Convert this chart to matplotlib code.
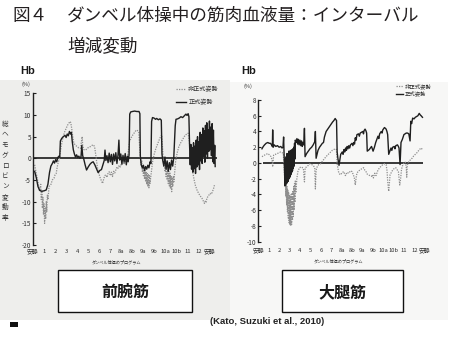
import matplotlib
matplotlib.use('Agg')
import matplotlib.pyplot as plt
from matplotlib.patches import Rectangle

plt.rcParams['font.family'] = ['Noto Sans CJK JP', 'DejaVu Sans']
plt.rcParams['axes.unicode_minus'] = False

W, H = 456, 339

# exercise program stages along the x axis
stages = ['安静', '1', '2', '3', '4', '5', '6', '7', '8a', '8b', '9a', '9b',
          '10a', '10b', '11', '12', '安静']

# forearm: total haemoglobin change (%), 正式姿勢
arm_formal_x = [0.15, 0.3, 0.45, 0.6, 0.8, 1.0, 1.2, 1.35, 1.5, 1.62, 1.75, 1.85, 1.95, 2.05,
                2.15, 2.25, 2.35, 2.42, 2.48, 2.6, 2.75, 2.9, 3.0, 3.1, 3.2, 3.3, 3.4, 3.48,
                3.55, 3.65, 3.75, 3.85, 3.95, 4.05, 4.15, 4.25, 4.35, 4.42, 4.5, 4.6, 4.72,
                4.85, 5.0, 5.15, 5.3, 5.45, 5.6, 5.75, 5.9, 6.05, 6.2, 6.35, 6.45, 6.52, 6.6,
                6.7, 6.8, 6.9, 7.0, 7.1, 7.2, 7.3, 7.4, 7.5, 7.6, 7.7, 7.78, 7.85, 7.95, 8.05,
                8.15, 8.25, 8.35, 8.45, 8.55, 8.62, 8.7,
                8.76, 8.85, 9.0, 9.2, 9.4, 9.6, 9.68, 9.72, 9.8, 9.9, 10.0, 10.1, 10.2, 10.3,
                10.4, 10.5, 10.6, 10.68,
                10.74, 10.82, 10.95, 11.1, 11.2, 11.35, 11.5, 11.62, 11.68, 11.75, 11.85,
                11.95, 12.05, 12.15, 12.25, 12.35, 12.45, 12.55, 12.65, 12.75,
                12.88, 12.95, 13.1, 13.25, 13.4, 13.55, 13.7, 13.85, 13.95, 14.05, 14.12, 14.18,
                14.24, 14.3, 14.36, 14.42, 14.48, 14.54, 14.6, 14.66, 14.72, 14.78, 14.84,
                14.9, 14.96, 15.02, 15.08, 15.14, 15.2, 15.26, 15.32, 15.38, 15.44, 15.5,
                15.56, 15.62, 15.68, 15.74, 15.8, 15.86, 15.92, 15.98, 16.04, 16.1, 16.16,
                16.22, 16.28, 16.34, 16.4, 16.46, 16.5]
arm_formal_y = [-3.0, -4.5, -6.5, -7.4, -7.6, -7.5, -7.3, -6.0, -3.2, -1.8, -1.2, -0.6, -1.1, -0.3,
                -0.8, 0.2, 0.5, 0.3, 4.0, 4.6, 5.0, 5.3, 4.8, 5.6, 5.2, 6.2, 5.6, 6.0,
                4.0, 2.0, 1.0, 0.3, 0.8, 0.2, 0.5, 0.0, 0.4, 3.0, 0.6, -0.2, -1.5,
                -2.7, -2.0, -1.4, -1.0, -0.8, -1.5, -2.4, -3.3, -2.8, -2.6, -1.3, -0.5, 1.9, -0.5,
                0.6, -1.0, 1.2, -0.8, 0.9, -1.4, 1.0, -0.6, 1.3, -1.2, 0.8, 4.2, -0.4, 1.0, -1.3,
                0.7, -0.9, 1.1, -1.5, 0.5, -0.8, 0.8,
                10.2, 10.7, 10.8, 10.9, 10.8, 10.8, 10.3, 0.5, -1.5, -2.2, -1.6, -2.8, -1.9, -2.5,
                -1.6, -2.2, -0.8, -1.2,
                8.5, 9.4, 9.3, 9.0, 9.2, 8.9, 9.1, 8.8, 1.0, -0.5, -1.8,
                0.3, -2.5, -0.6, -3.0, -1.0, -2.6, -0.4, -1.8, 0.2,
                7.5, 9.0, 9.1, 9.3, 9.6, 9.4, 9.8, 10.2, 9.9, 10.3, 9.6, 3.0,
                -1.5, 3.2, -2.5, 2.5, -3.2, 3.6, -2.4, 2.8, -3.5, 4.2, -2.0,
                5.0, -1.5, 3.8, -2.6, 6.0, -0.6, 5.5, -1.2, 7.0, 0.4, 6.4,
                -0.9, 7.6, 1.0, 8.2, 0.0, 6.6, 1.6, 8.6, 2.0, 7.2, 0.6,
                8.0, -0.8, 6.5, -1.2, 3.0, -1.9]

# forearm: 非正式姿勢
arm_informal_x = [0.15, 0.3, 0.45, 0.6, 0.7, 0.75, 0.8, 0.85, 0.9, 0.95, 1.0, 1.05, 1.1, 1.15,
                  1.2, 1.25, 1.3, 1.36, 1.45, 1.6, 1.75, 1.9, 2.0, 2.1, 2.2, 2.3, 2.4, 2.5,
                  2.6, 2.7, 2.85, 3.0, 3.12, 3.25, 3.35, 3.42, 3.5, 3.6, 3.7, 3.85, 4.0, 4.15,
                  4.3, 4.4, 4.45, 4.5, 4.6, 4.75, 4.9, 5.05, 5.2, 5.35, 5.5, 5.6, 5.7, 5.8,
                  5.9, 6.0, 6.1, 6.2, 6.3, 6.4, 6.5, 6.6, 6.7, 6.8, 6.9, 7.0, 7.1, 7.2, 7.3,
                  7.4, 7.5, 7.6, 7.7, 7.8, 7.9, 8.0, 8.1, 8.2, 8.3, 8.45, 8.6, 8.74, 8.9,
                  9.04, 9.2, 9.34, 9.46, 9.58, 9.7, 9.8, 9.85, 9.9, 9.95, 10.0, 10.05, 10.1,
                  10.15, 10.2, 10.25, 10.3, 10.35, 10.4, 10.45, 10.5, 10.55, 10.6, 10.65,
                  10.75, 10.83, 10.98, 11.13, 11.28, 11.42, 11.55, 11.66, 11.78, 11.85, 11.9,
                  11.95, 12.0, 12.05, 12.1, 12.15, 12.2, 12.25, 12.3, 12.35, 12.4, 12.45,
                  12.5, 12.56, 12.6, 12.66, 12.72, 12.76, 12.85, 12.91, 13.05, 13.21, 13.36,
                  13.51, 13.65, 13.8, 13.95, 14.05, 14.15, 14.25, 14.35, 14.46, 14.58, 14.7,
                  14.85, 15.0, 15.15, 15.3, 15.42, 15.53, 15.6, 15.68, 15.75, 15.9, 16.04,
                  16.15, 16.25, 16.35, 16.43]
arm_informal_y = [-1.5, -3.5, -5.4, -7.5, -6.0, -9.5, -7.5, -11.5, -9.0, -13.0, -10.5, -15.0,
                  -11.5, -14.0, -10.0, -12.3, -8.5, -9.5, -6.5, -6.2, -5.0, -4.6, -3.8, -3.5,
                  -1.9, -0.8, 0.0, 1.9, 3.4, 4.6, 6.0, 6.9, 7.6, 8.1, 8.5, 8.2, 7.0, 5.0, 3.5,
                  3.0, 2.7, 2.4, 2.3, 4.0, 5.0, 3.0, 2.0, 1.9, 2.2, 2.6, 2.7, 3.0, 3.1, 2.3,
                  0.5, -1.5, -3.0, -3.8, -4.6, -5.2, -5.8, -4.8, -4.0, -3.8, -4.4, -3.4, -3.1,
                  -4.0, -3.2, -4.2, -3.0, -3.4, -2.7, -2.0, -2.3, -1.6, -2.0, -1.2, -1.5,
                  -0.9, -1.2, -0.4, 1.0, 3.8, 4.8, 5.4, 6.0, 6.5, 6.4, 6.1, 0.8, -1.5, -0.5,
                  -3.0, -1.5, -4.0, -2.0, -4.8, -2.5, -5.4, -3.0, -6.0, -3.5, -6.5, -3.8,
                  -6.8, -4.0, -5.8, -4.6, -2.5, -0.8, 1.0, 2.3, 3.3, 4.2, 5.0, 5.4, 0.4,
                  -1.8, -0.8, -3.1, -1.5, -4.2, -2.2, -5.0, -2.6, -5.8, -3.0, -6.4, -3.4,
                  -7.0, -4.0, -7.7, -4.4, -6.5, -4.0, -5.4, -2.5, -0.8, 1.2, 2.7, 3.5, 4.2,
                  4.8, 5.4, 5.6, 5.8, 4.0, 1.5, -1.0, -3.1, -4.8, -6.2, -7.3, -8.1, -8.7,
                  -9.2, -9.8, -10.4, -9.9, -10.2, -9.2, -8.6, -8.1, -8.3, -7.7, -7.0, -6.2]

# thigh: total haemoglobin change (%), 正式姿勢
leg_formal_x = [0.35, 0.48, 0.6, 0.75, 0.91, 1.05, 1.16, 1.28, 1.35, 1.38, 1.42, 1.53, 1.68,
                1.84, 2.0, 2.15, 2.28, 2.37, 2.43, 2.5,
                2.56, 2.6, 2.64, 2.68, 2.72, 2.76, 2.8, 2.84, 2.88, 2.92, 2.96, 3.0, 3.04,
                3.08, 3.12, 3.16, 3.2, 3.24, 3.28, 3.32, 3.36, 3.4, 3.44, 3.48, 3.52,
                3.55, 3.62, 3.71, 3.78, 3.85, 3.92, 4.0, 4.08, 4.15, 4.22, 4.28, 4.36, 4.43,
                4.49, 4.64, 4.8, 4.96, 5.12, 5.27, 5.42, 5.48, 5.55, 5.64, 5.73, 5.88, 6.04,
                6.15, 6.26, 6.35, 6.51, 6.66, 6.82, 6.98, 7.13, 7.26, 7.38, 7.45, 7.51, 7.57,
                7.65, 7.75, 7.82, 7.91, 8.06, 8.14, 8.22, 8.3, 8.38, 8.46, 8.53, 8.61, 8.69,
                8.77, 8.85, 9.0, 9.08, 9.16, 9.24, 9.31, 9.39, 9.47, 9.62, 9.7, 9.78, 9.9,
                10.03, 10.1, 10.15, 10.25, 10.33, 10.4, 10.46, 10.56, 10.65, 10.76, 10.87,
                10.95, 11.02, 11.15, 11.27, 11.38, 11.49, 11.57, 11.65, 11.8, 11.88, 11.95,
                12.11, 12.2, 12.27, 12.35, 12.42, 12.52, 12.63, 12.74, 12.82, 12.9, 13.05,
                13.12, 13.2, 13.36, 13.45, 13.51, 13.56, 13.61, 13.66, 13.7, 13.83, 13.98,
                14.1, 14.2, 14.33, 14.45, 14.57, 14.64, 14.72, 14.82, 14.95, 15.07, 15.2,
                15.32, 15.45, 15.55, 15.63, 15.76]
leg_formal_y = [1.8, 2.1, 2.3, 2.5, 2.6, 2.5, 2.5, 2.3, 2.1, 4.2, 2.0, 2.3, 2.1,
                2.2, 2.0, 2.1, 1.9, 2.0, 3.3, 0.1,
                -2.9, 0.5, -2.7, 0.8, -2.6, 1.2, -2.4, 1.0, -2.3, 1.5, -2.0, 1.3, -1.8,
                1.6, -1.5, 1.4, -1.2, 1.7, -1.0, 1.8, -0.7, 2.0, -0.4, 2.5, 0.5,
                2.9, 2.6, 3.1, 2.4, 3.0, 2.3, 2.9, 2.2, 2.8, 2.1, 2.6, 2.3, 4.4,
                0.8, 1.2, 1.5, 1.8, 2.0, 2.3, 2.7, 4.0, 0.6, 1.1, 1.6, 2.0, 2.3,
                2.5, 2.6, 3.3, 4.0, 4.3, 4.6, 4.9, 5.2, 5.4, 5.65, 5.5, 5.4, 1.4,
                0.5, -0.3, 0.3, 1.1, 1.4, 1.1, 1.7, 1.4, 1.9, 1.6, 2.1, 1.8, 2.2,
                1.9, 2.3, 2.5, 2.2, 2.6, 2.4, 3.2, 2.9, 3.6, 3.7, 3.4, 3.8, 3.9,
                4.0, 3.7, 4.1, 4.3, 4.1, 3.8, 1.5, 1.6, 1.7, 1.9, 2.1,
                1.8, 1.5, 2.0, 2.6, 3.0, 3.4, 3.1, 3.7, 4.0, 3.8, 4.2,
                4.5, 4.4, 4.3, 4.0, 3.6, 1.1, 1.5, 1.9, 1.6, 2.0, 2.1,
                1.8, 2.2, 2.3, 2.1, 1.9, 0.8, -0.2, 1.5, 2.6, 3.0, 3.6,
                3.7, 3.8, 3.8, 3.7, 2.8, 5.3, 5.0, 5.7, 5.6, 5.8, 5.9,
                6.0, 6.3, 6.1, 6.0, 5.8]

# thigh: 非正式姿勢
leg_informal_x = [0.35, 0.6, 0.91, 1.1, 1.22, 1.32, 1.38, 1.47, 1.65, 1.84, 2.0, 2.15, 2.3,
                  2.4, 2.5, 2.56, 2.6, 2.64, 2.68, 2.72, 2.76, 2.8, 2.84, 2.88, 2.92, 2.96,
                  3.0, 3.04, 3.08, 3.12, 3.16, 3.2, 3.24, 3.28, 3.32, 3.36, 3.4, 3.44, 3.48,
                  3.52, 3.56, 3.6, 3.7, 3.8, 3.95, 4.15, 4.33, 4.43, 4.5, 4.64, 4.8, 4.96,
                  5.12, 5.27, 5.42, 5.48, 5.55, 5.65, 5.8, 5.98, 6.2, 6.5, 6.8, 7.1, 7.38,
                  7.5, 7.57, 7.7, 7.8, 7.91, 8.05, 8.22, 8.3, 8.38, 8.5, 8.69, 8.85, 9.0,
                  9.15, 9.22, 9.31, 9.4, 9.47, 9.62, 9.78, 9.95, 10.1, 10.22, 10.34, 10.45,
                  10.55, 10.7, 10.87, 10.95, 11.05, 11.18, 11.3, 11.49, 11.65, 11.8, 11.95,
                  12.11, 12.27, 12.36, 12.42, 12.52, 12.6, 12.65, 12.78, 12.9, 13.05, 13.2,
                  13.35, 13.45, 13.52, 13.58, 13.64, 13.67, 13.75, 13.83, 13.98, 14.1, 14.2,
                  14.25, 14.3, 14.45, 14.6, 14.76, 14.92, 15.07, 15.23, 15.35, 15.45, 15.55,
                  15.63, 15.76]
leg_informal_y = [0.8, 1.0, 1.2, 1.0, 0.8, 0.4, -0.5, 1.0, 1.1, 1.2, 1.3, 1.4, 1.3,
                  1.2, -1.1, -3.0, -2.0, -4.2, -2.5, -5.4, -3.0, -6.2, -3.4, -7.0, -3.8, -7.6,
                  -4.0, -7.9, -4.2, -8.0, -4.0, -7.8, -3.8, -7.3, -3.5, -6.8, -3.0, -6.0, -2.6,
                  -5.0, -2.2, -3.8, -2.0, -1.1, -0.6, -0.5, -0.7, -2.4, -0.6, -0.5, -0.3, -0.1,
                  -0.2, -0.3, -0.6, -3.3, -0.9, -0.5, -0.2, -0.1, 0.3, 0.8, 1.2, 1.6, 1.8,
                  1.7, -0.1, -1.1, -1.4, -1.5, -1.2, -1.1, -1.5, -1.6, -1.2, -1.3, -1.0, -1.1,
                  -1.6, -1.9, -2.8, -1.8, -1.3, -1.0, -0.9, -0.7, -0.6, -0.9, -1.1, -1.4,
                  -1.5, -1.6, -1.7, -1.5, -1.9, -1.3, -1.6, -0.9, -0.6, -0.4, -0.2,
                  -0.1, -0.2, -1.0, -2.3, -3.6, -2.2, -1.5, -1.2, -0.9, -0.7, -0.6,
                  -0.9, -1.1, -2.0, -2.8, -2.2, -1.9, -0.8, -0.4, 0.0, 0.1, -0.4,
                  -1.8, -0.3, 0.2, 0.4, 0.6, 0.9, 1.1, 1.3, 1.5, 1.7, 1.8,
                  1.9, 1.7]


def px_box(x0, y0, x1, y1):
    """pixel box (top-left origin) -> figure fraction [left, bottom, w, h]"""
    return [x0 / W, 1 - y1 / H, (x1 - x0) / W, (y1 - y0) / H]


def fx(x):
    return x / W


def fy(y):
    return 1 - y / H


fig = plt.figure(figsize=(W / 100, H / 100), dpi=100)

# scanned page areas behind the two panels
fig.add_artist(Rectangle((fx(0), fy(320)), fx(230), (320 - 80) / H,
                         transform=fig.transFigure, facecolor='#eeeeec', edgecolor='none', zorder=0))
fig.add_artist(Rectangle((fx(230), fy(320)), fx(448) - fx(230), (320 - 82) / H,
                         transform=fig.transFigure, facecolor='#f7f7f6', edgecolor='none', zorder=0))
fig.add_artist(Rectangle((fx(10), fy(327)), fx(8), 5 / H,
                         transform=fig.transFigure, facecolor='#111111', edgecolor='none', zorder=0))

ink = '#1f1f1f'
tick_col = '#2e2e2e'
grey = '#8e8e8e'


def style_panel(ax, yticks, pad_x):
    ax.set_facecolor('none')
    for s in ['top', 'right', 'bottom']:
        ax.spines[s].set_visible(False)
    ax.spines['left'].set_color(ink)
    ax.spines['left'].set_linewidth(1.0)
    ax.set_yticks(yticks)
    ax.set_yticklabels([str(t) for t in yticks])
    ax.tick_params(axis='y', direction='in', length=2.5, width=0.8, color=ink,
                   labelsize=4.6, labelcolor=tick_col, pad=1.5)
    ax.set_xticks(range(len(stages)))
    ax.set_xticklabels(stages)
    ax.tick_params(axis='x', length=0, labelsize=4.2, labelcolor=tick_col, pad=pad_x)


# ---- forearm panel ----
ax1 = fig.add_axes(px_box(33, 93.3, 217.4, 245))
ax1.set_xlim(0.2, 16.7)
ax1.set_ylim(-20, 15)
style_panel(ax1, list(range(-20, 16, 5)), 2.6)
ax1.axhline(0, color='#2a2a2a', lw=1.3, zorder=1)
l_inf, = ax1.plot(arm_informal_x, arm_informal_y, color=grey, lw=0.9,
                  linestyle=(0, (1, 1)), label='非正式姿勢', zorder=2)
l_for, = ax1.plot(arm_formal_x, arm_formal_y, color=ink, lw=1.0,
                  label='正式姿勢', zorder=3)
ax1.legend(handles=[l_inf, l_for], loc='upper left', bbox_to_anchor=(fx(176), fy(85)),
           bbox_transform=fig.transFigure, frameon=False, fontsize=4.4, handlelength=1.6,
           handletextpad=0.4, labelspacing=0.8, borderaxespad=0, borderpad=0,
           labelcolor='#333333')

# ---- thigh panel ----
ax2 = fig.add_axes(px_box(258.3, 100, 426, 241.7))
ax2.set_xlim(0.44, 16.1)
ax2.set_ylim(-10, 8)
style_panel(ax2, list(range(-10, 9, 2)), 4.6)
ax2.hlines(0, 0.44, 15.85, color='#2a2a2a', lw=1.3, zorder=1)
r_inf, = ax2.plot(leg_informal_x, leg_informal_y, color=grey, lw=0.9,
                  linestyle=(0, (1, 1)), label='非正式姿勢', zorder=2)
r_for, = ax2.plot(leg_formal_x, leg_formal_y, color=ink, lw=1.0,
                  label='正式姿勢', zorder=3)
ax2.legend(handles=[r_inf, r_for], loc='upper left', bbox_to_anchor=(fx(396), fy(83.5)),
           bbox_transform=fig.transFigure, frameon=False, fontsize=3.9, handlelength=1.3,
           handletextpad=0.3, labelspacing=0.3, borderaxespad=0, borderpad=0,
           labelcolor='#333333')

# axis captions
fig.text(fx(116.5), fy(262), 'ダンベル体操のプログラム', fontsize=3.0, color=tick_col,
         ha='center', va='center')
fig.text(fx(339), fy(260.5), 'ダンベル体操のプログラム', fontsize=3.0, color=tick_col,
         ha='center', va='center')
fig.text(fx(5), fy(171), '\n'.join('総ヘモグロビン変動率'), fontsize=4.8, color=tick_col,
         ha='center', va='center', linespacing=1.4)
fig.text(fx(26), fy(84.5), '(%)', fontsize=4.0, color=tick_col, ha='center', va='center')
fig.text(fx(248), fy(86.5), '(%)', fontsize=4.0, color=tick_col, ha='center', va='center')

# Hb headers
for x in (27.5, 249):
    fig.text(fx(x), fy(71.5), 'Hb', fontsize=8, fontweight='bold', family='Liberation Sans',
             color='#1a1a1a', ha='center', va='center')

# title
title_col = '#231f20'
fig.text(fx(12), fy(16), '図４', fontsize=12.7, color=title_col, va='center')
fig.text(fx(67), fy(16), 'ダンベル体操中の筋肉血液量：インターバル', fontsize=12.7,
         color=title_col, va='center')
fig.text(fx(67), fy(47), '増減変動', fontsize=12.7, color=title_col, va='center')

# muscle name boxes
for x0, x1, name in ((58, 192, '前腕筋'), (282, 403, '大腿筋')):
    fig.add_artist(Rectangle((fx(x0), fy(312)), fx(x1) - fx(x0), (312 - 270) / H,
                             transform=fig.transFigure, facecolor='white',
                             edgecolor='#111111', lw=1.0, zorder=2))
    fig.text(fx((x0 + x1) / 2), fy(292), name, fontsize=11.5, fontweight='bold',
             color='#1a1a1a', ha='center', va='center', zorder=3)

fig.text(fx(267.5), fy(322), '(Kato, Suzuki et al., 2010)', fontsize=6.8,
         fontweight='bold', family='Liberation Sans', color='#222222',
         ha='center', va='center')

fig.savefig('out.png', dpi=100)
